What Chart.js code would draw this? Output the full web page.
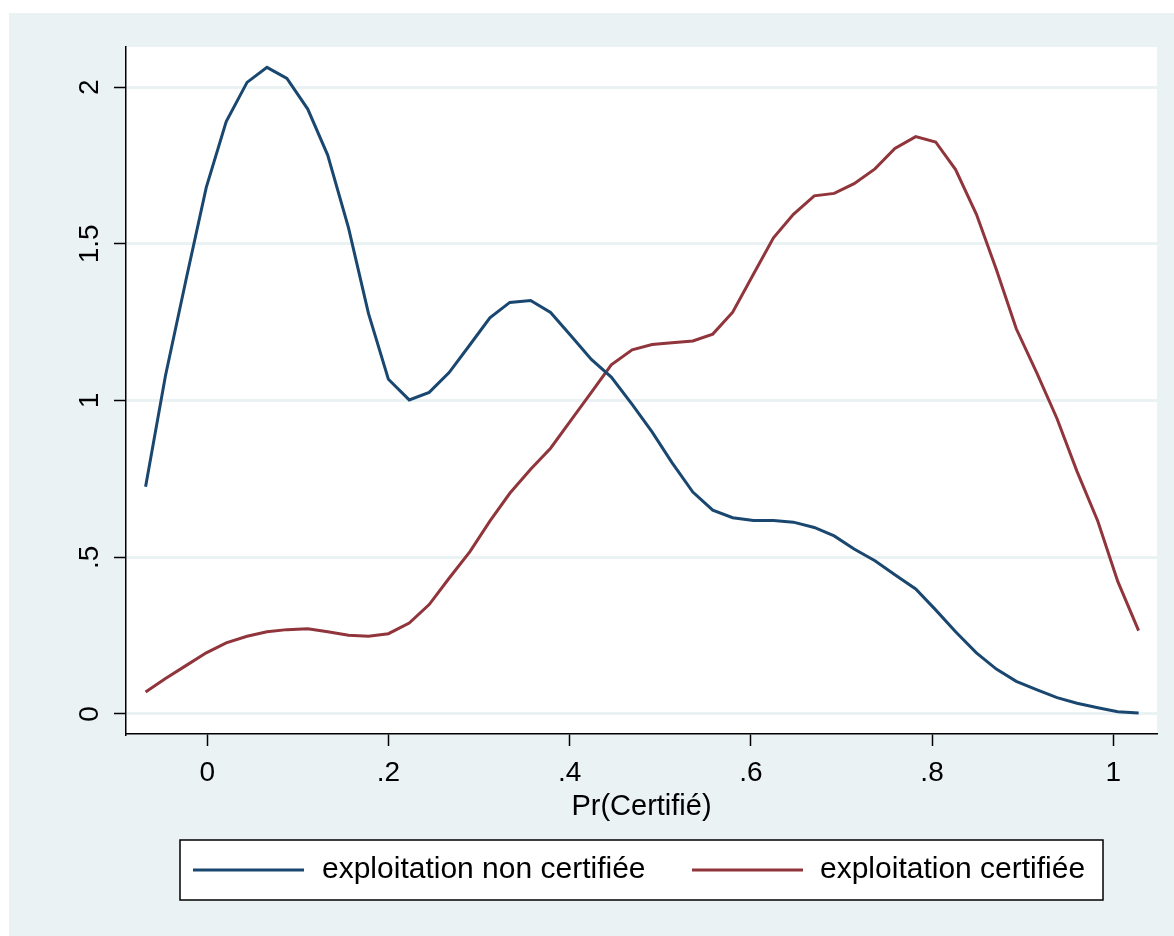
<!DOCTYPE html>
<html>
<head>
<meta charset="utf-8">
<script src="https://cdn.jsdelivr.net/npm/chart.js@4.4.1/dist/chart.umd.min.js"></script>
<style>
  html, body { margin: 0; padding: 0; background: #ffffff; overflow: hidden; }
  #wrap { position: relative; width: 1174px; height: 936px; }
</style>
</head>
<body>
<div id="wrap"><canvas id="chart_density"></canvas></div>
<script>
// evaluation points of the kernel density (Pr(Certifié))
const xPoints = [
  -0.068, -0.046, -0.023, -0.001, 0.021, 0.044, 0.066, 0.088, 0.111, 0.133,
  0.156, 0.178, 0.200, 0.223, 0.245, 0.267, 0.290, 0.312, 0.334, 0.357,
  0.379, 0.401, 0.424, 0.446, 0.469, 0.491, 0.513, 0.536, 0.558, 0.580,
  0.603, 0.625, 0.647, 0.670, 0.692, 0.714, 0.737, 0.759, 0.782, 0.804,
  0.826, 0.849, 0.871, 0.893, 0.916, 0.938, 0.960, 0.983, 1.005, 1.028
];

// density, exploitation non certifiée
const nonCertifiee = [
  0.725, 1.08, 1.39, 1.68, 1.89, 2.015, 2.063, 2.028, 1.93, 1.783,
  1.551, 1.278, 1.068, 1.002, 1.026, 1.089, 1.178, 1.264, 1.313, 1.319,
  1.281, 1.208, 1.131, 1.075, 0.988, 0.900, 0.802, 0.708, 0.650, 0.626,
  0.617, 0.617, 0.612, 0.595, 0.568, 0.526, 0.489, 0.444, 0.399, 0.332,
  0.262, 0.195, 0.143, 0.104, 0.077, 0.052, 0.034, 0.020, 0.007, 0.003
];

// density, exploitation certifiée
const certifiee = [
  0.070, 0.113, 0.155, 0.195, 0.227, 0.248, 0.262, 0.269, 0.272, 0.262,
  0.251, 0.248, 0.256, 0.290, 0.349, 0.433, 0.518, 0.615, 0.704, 0.781,
  0.848, 0.935, 1.026, 1.114, 1.162, 1.179, 1.184, 1.190, 1.212, 1.282,
  1.404, 1.519, 1.594, 1.653, 1.661, 1.692, 1.739, 1.804, 1.842, 1.825,
  1.737, 1.594, 1.418, 1.229, 1.086, 0.942, 0.774, 0.615, 0.423, 0.266
];

const seriesLabels = ['exploitation non certifiée', 'exploitation certifiée'];

const xTickValues = [0, 0.2, 0.4, 0.6, 0.8, 1];
const xTickLabels = ['0', '.2', '.4', '.6', '.8', '1'];
const yTickValues = [0, 0.5, 1, 1.5, 2];
const yTickLabels = ['0', '.5', '1', '1.5', '2'];

const FONT = 'Liberation Sans, Arial, Helvetica, sans-serif';
const BLUE = '#1a476f';
const RED = '#90353b';
const PANEL = '#eaf2f3';

// outer panel + white plot region (Stata s2color look)
const backdrop = {
  id: 'backdrop',
  beforeDraw(chart) {
    const { ctx, chartArea: a } = chart;
    ctx.save();
    ctx.fillStyle = PANEL;
    ctx.fillRect(9, 13, chart.width - 9, chart.height - 13);
    ctx.fillStyle = '#ffffff';
    ctx.fillRect(a.left, a.top, a.right - a.left, a.bottom - a.top);
    ctx.restore();
  }
};

// boxed legend below the axis title
const boxLegend = {
  id: 'boxLegend',
  afterDraw(chart) {
    const ctx = chart.ctx;
    const box = { x: 180, y: 840, w: 923, h: 60 };
    const items = [
      { x1: 193, x2: 304, tx: 322 },
      { x1: 692, x2: 803, tx: 820 }
    ];
    ctx.save();
    ctx.fillStyle = '#ffffff';
    ctx.fillRect(box.x, box.y, box.w, box.h);
    ctx.strokeStyle = '#000000';
    ctx.lineWidth = 1.5;
    ctx.strokeRect(box.x, box.y, box.w, box.h);
    const midY = box.y + box.h / 2;
    chart.data.datasets.forEach(function (ds, i) {
      const it = items[i];
      ctx.strokeStyle = ds.borderColor;
      ctx.lineWidth = 3;
      ctx.beginPath();
      ctx.moveTo(it.x1, midY);
      ctx.lineTo(it.x2, midY);
      ctx.stroke();
      ctx.fillStyle = '#000000';
      ctx.font = '30px ' + FONT;
      ctx.textBaseline = 'middle';
      ctx.textAlign = 'left';
      ctx.fillText(ds.label, it.tx, midY);
    });
    ctx.restore();
  }
};

const ctx = document.getElementById('chart_density');

new Chart(ctx, {
  type: 'line',
  data: {
    datasets: [
      {
        label: seriesLabels[0],
        data: xPoints.map((x, i) => ({ x: x, y: nonCertifiee[i] })),
        borderColor: BLUE,
        borderWidth: 3,
        pointRadius: 0,
        tension: 0,
        fill: false
      },
      {
        label: seriesLabels[1],
        data: xPoints.map((x, i) => ({ x: x, y: certifiee[i] })),
        borderColor: RED,
        borderWidth: 3,
        pointRadius: 0,
        tension: 0,
        fill: false
      }
    ]
  },
  options: {
    responsive: true,
    maintainAspectRatio: false,
    animation: false,
    layout: { padding: { left: 0, top: 47, right: 17, bottom: 112 } },
    plugins: {
      legend: { display: false },
      tooltip: { enabled: false }
    },
    scales: {
      x: {
        type: 'linear',
        min: -0.0896,
        max: 1.0483,
        afterBuildTicks: (s) => { s.ticks = xTickValues.map(v => ({ value: v })); },
        afterFit: (s) => { s.height = 90; },
        grid: {
          drawOnChartArea: false,
          drawTicks: true,
          tickLength: 12,
          tickColor: '#000000',
          tickWidth: 1.5
        },
        border: { display: true, color: '#000000', width: 1.5 },
        ticks: {
          padding: 10,
          maxRotation: 0,
          color: '#000000',
          font: { family: FONT, size: 28 },
          callback: (value, index) => xTickLabels[index]
        },
        title: {
          display: true,
          text: 'Pr(Certifié)',
          color: '#000000',
          font: { family: FONT, size: 29 },
          padding: { top: 0, bottom: 0 }
        }
      },
      y: {
        type: 'linear',
        min: -0.064,
        max: 2.128,
        afterBuildTicks: (s) => { s.ticks = yTickValues.map(v => ({ value: v })); },
        afterFit: (s) => { s.width = 126; },
        grid: {
          color: PANEL,
          lineWidth: 3,
          drawTicks: true,
          tickLength: 12,
          tickColor: '#000000',
          tickWidth: 1.5
        },
        border: { display: true, color: '#000000', width: 1.5 },
        ticks: {
          padding: 4,
          minRotation: 90,
          maxRotation: 90,
          crossAlign: 'center',
          color: '#000000',
          font: { family: FONT, size: 28 },
          callback: (value, index) => yTickLabels[index]
        }
      }
    }
  },
  plugins: [backdrop, boxLegend]
});
</script>
</body>
</html>
